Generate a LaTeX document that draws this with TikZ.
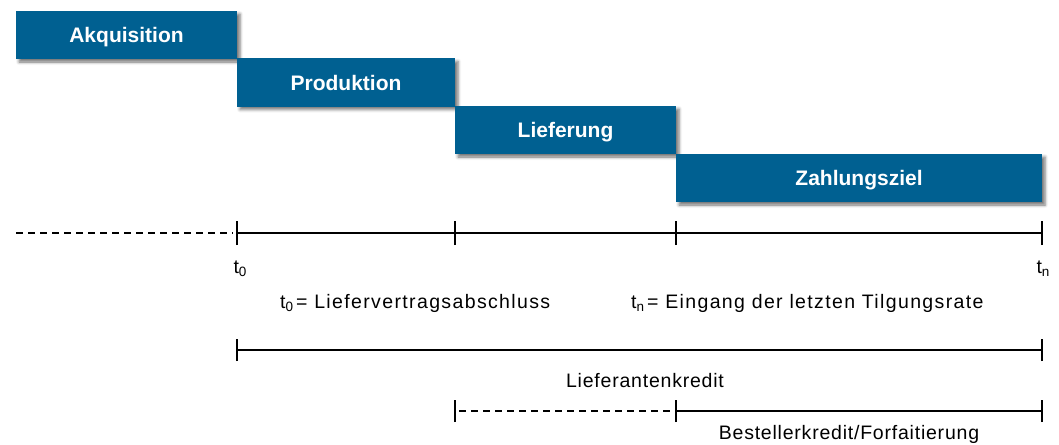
\documentclass[tikz,border=0pt]{standalone}
\usepackage{fontspec}
\setmainfont{Liberation Sans}
\usetikzlibrary{shadows.blur}
\definecolor{boxblue}{RGB}{0,96,145}
\newcommand{\tsub}[1]{t\raisebox{-0.3ex}{\fontsize{13.5}{14}\selectfont #1}}
\begin{document}
\begin{tikzpicture}[x=1pt,y=-1pt,
  phase/.style={fill=boxblue, text=white, font=\fontsize{21}{23}\selectfont\bfseries,
    minimum height=48pt, inner sep=0pt, text height=15pt, text depth=0pt,
    blur shadow={shadow xshift=3pt, shadow yshift=-3pt, shadow blur radius=3pt, shadow opacity=55}},
  lbl/.style={font=\fontsize{19.5}{21}\selectfont\addfontfeature{LetterSpace=4}, text=black, inner sep=0pt},
  deflbl/.style={font=\fontsize{19.5}{21}\selectfont\addfontfeature{LetterSpace=7}, text=black, inner sep=0pt},
  tlbl/.style={font=\fontsize{19.5}{21}\selectfont, text=black, inner sep=0pt},
  tl/.style={line width=1.2pt},
  tick/.style={line width=1.5pt},
  dsh/.style={line width=1.2pt, dash pattern=on 7pt off 5pt}]
\useasboundingbox (0,0) rectangle (1059,444);
% phase boxes
\node[phase, minimum width=221pt] (akq) at (126.5,35) {Akquisition};
\node[phase, minimum width=218pt] (prod) at (346,82.5) {Produktion};
\node[phase, minimum width=221pt] (lief) at (565.5,130) {Lieferung};
\node[phase, minimum width=366pt] (zahl) at (859,178) {Zahlungsziel};
% main time axis
\coordinate (s) at (16,233);
\coordinate (a0) at (237,233);
\coordinate (a1) at (455,233);
\coordinate (a2) at (676,233);
\coordinate (a3) at (1042,233);
\draw[dsh] (s) -- ([xshift=-4pt]a0);
\draw[tl] (a0) -- (a3);
\foreach \c in {a0,a1,a2,a3} \draw[tick] ([yshift=-12pt]\c) -- ([yshift=12pt]\c);
\node[tlbl] (t0) at (240,269) {\tsub{0}};
\node[tlbl] (tn) at (1043,269) {\tsub{n}};
\node[deflbl, anchor=west] (def0) at (280,303) {\tsub{0}\hspace{3pt}= Liefervertragsabschluss};
\node[deflbl, anchor=west] (defn) at (631,303) {\tsub{n}\hspace{3pt}= Eingang der letzten Tilgungsrate};
% Lieferantenkredit
\coordinate (b0) at (237,350);
\coordinate (b1) at (1042,350);
\draw[tl] (b0) -- (b1);
\foreach \c in {b0,b1} \draw[tick] ([yshift=-11pt]\c) -- ([yshift=11pt]\c);
\node[lbl] (lk) at (645,381) {Lieferantenkredit};
% Bestellerkredit
\coordinate (c0) at (455,411);
\coordinate (c1) at (676,411);
\coordinate (c2) at (1042,411);
\draw[dsh] ([xshift=4pt]c0) -- ([xshift=-4pt]c1);
\draw[tl] (c1) -- (c2);
\foreach \c in {c0,c1,c2} \draw[tick] ([yshift=-11pt]\c) -- ([yshift=11pt]\c);
\node[lbl] (bk) at (849,434) {Bestellerkredit/Forfaitierung};
\end{tikzpicture}
\end{document}
